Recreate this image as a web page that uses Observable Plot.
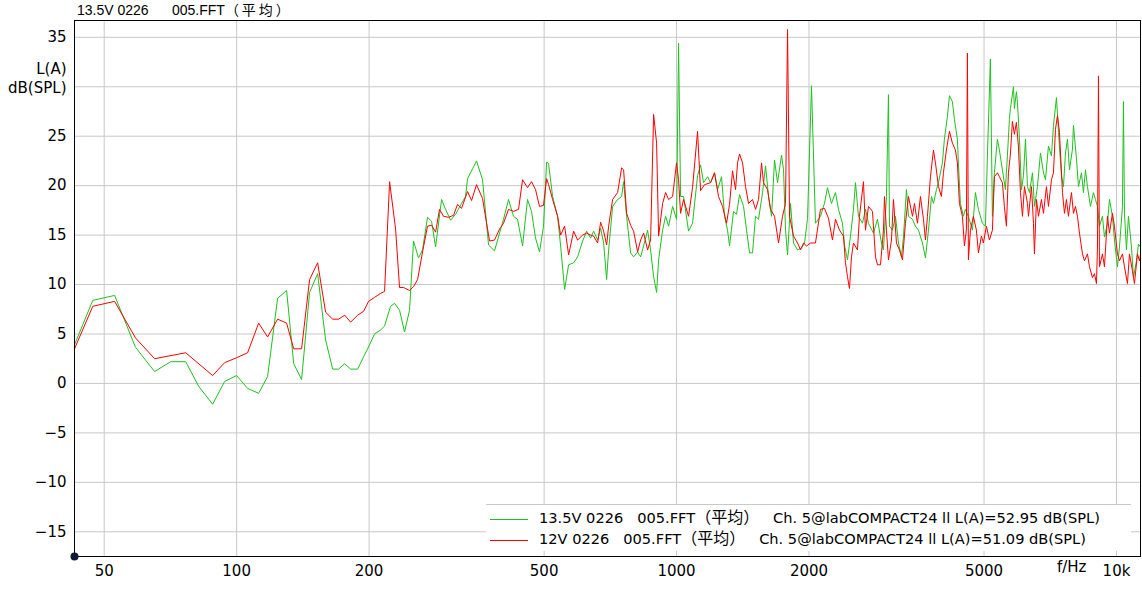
<!DOCTYPE html>
<html><head><meta charset="utf-8">
<script src="https://cdn.jsdelivr.net/npm/d3@7"></script>
<script src="https://cdn.jsdelivr.net/npm/@observablehq/plot@0.6"></script>
<style>
html,body{margin:0;padding:0;background:#fff;}
#wrap{position:relative;width:1142px;height:590px;font-family:"DejaVu Sans","Noto Sans CJK SC",sans-serif;color:#000;}
#wrap svg text{white-space:pre;}
#title{position:absolute;left:77px;top:1px;font-family:"Liberation Sans",Arial,"Noto Sans CJK SC",sans-serif;font-size:14px;line-height:16px;white-space:pre;}
#legend{position:absolute;left:486px;top:504px;width:645px;height:46px;background:#fff;border-top:1px solid #c8c8c8;font-size:14.6px;}
.row{position:absolute;left:0;height:20px;line-height:20px;white-space:pre;}
.sw{display:inline-block;width:38px;height:0;border-top:1px solid;vertical-align:middle;margin:0 11px 0 4px;}
.cjk{font-family:"Noto Sans CJK SC",sans-serif;font-size:16px;line-height:14px;}
#title .cjk{font-size:14px;line-height:16px;letter-spacing:3px;}
</style></head>
<body>
<div id="wrap">
  <div id="title">13.5V 0226      005.FFT<span class="cjk">（平均）</span></div>
</div>
<script>
// tick values
const xTicks = [50, 100, 200, 500, 1000, 2000, 5000, 10000];
const yTicks = [-15, -10, -5, 0, 5, 10, 15, 20, 25, 30, 35];
const yLabelTicks = [-15, -10, -5, 0, 5, 10, 15, 20, 25, 35];
// legend entries: [file part, CJK part, channel part]
const seriesFiles = ["13.5V 0226   005.FFT", "12V 0226   005.FFT"];
const seriesAvg = "（平均）";
const seriesChannels = ["   Ch. 5@labCOMPACT24 ll L(A)=52.95 dB(SPL)", "   Ch. 5@labCOMPACT24 ll L(A)=51.09 dB(SPL)"];
const seriesColors = ["#1ec21e", "#ff0000"];

// 13.5V series (green)
const freq13 = [42.8,47.1,52.8,58.9,65.1,70.8,76.6,82.0,88.2,93.9,100,105.9,112.2,117.6,123.9,129.9,134.8,140.5,146.5,152.8,159.3,165.3,170.5,176.0,181.6,188.4,194.4,199.5,205.8,212.4,216.9,223.8,228.6,234.6,240.8,247.2,252.4,259.1,264.6,271.6,277.4,283.3,292.3,298.5,306.4,314.5,324.5,331.4,334.9,343.8,351.0,362.2,373.8,385.7,395.9,404.3,415.0,426.0,435.0,446.6,458.4,468.1,478.0,488.1,498.4,506.6,511.9,522.7,536.6,545.1,556.6,568.4,583.5,595.8,611.6,624.5,637.7,647.9,661.6,672.0,682.7,693.5,700.8,715.6,734.5,750.1,758.0,769.9,786.2,798.7,815.6,828.5,841.6,859.4,873.0,886.8,900.8,910.3,929.6,944.3,959.2,979.5,1000,1010.5,1021.2,1037.3,1064.8,1087.3,1116.2,1133.8,1151.8,1176.1,1194.7,1220.0,1239.3,1265.5,1285.6,1305.9,1319.6,1347.5,1368.9,1390.5,1420.0,1442.4,1465.3,1488.4,1512.0,1535.9,1568.4,1593.2,1618.4,1644.0,1670.0,1696.5,1732.4,1750.6,1769.0,1787.6,1815.9,1844.6,1883.7,1923.5,1954.0,1984.9,2026.3,2069.2,2124.0,2169.0,2203.3,2249.9,2297.5,2333.9,2383.2,2408.3,2446.5,2485.1,2524.5,2551.1,2591.4,2646.2,2688.0,2730.6,2803.0,2862.3,2922.8,2953.6,3000.2,3031.7,3047.8,3096.0,3144.9,3194.6,3245.3,3279.4,3331.3,3366.5,3437.7,3492.0,3547.2,3622.3,3679.7,3737.9,3797.0,3836.9,3897.7,3938.6,4021,4063,4128,4171,4237,4282,4349,4372,4418,4488,4535,4607,4705,4779,4855,4957,5036,5089,5169,5224,5279,5362,5419,5504,5591,5650,5710,5740,5833,5861,5923,5956,6019,6082,6146,6211,6276,6342,6443,6510,6613,6718,6824,6896,7005,7116,7191,7305,7382,7498,7577,7657,7738,7819,7943,7984,8111,8196,8326,8413,8502,8591,8727,8865,8959,9053,9148,9293,9391,9539,9640,9792,9895,10052,10158,10318,10372,10427,10537,10647,10816,10930,11103,11220,11338];
const db13 = [3.9,8.4,8.9,3.65,1.2,2.2,2.2,-0.3,-2.1,0.2,0.8,-0.5,-1.0,0.7,8.6,9.4,2.0,0.4,9.2,11.1,4.4,1.45,1.45,2.0,1.45,1.45,2.7,3.7,5.0,5.4,5.8,7.8,8.1,7.4,5.2,7.4,14.4,12.7,13.5,16.8,16.4,13.8,18.6,17.6,16.5,17.1,18.2,18.9,20.7,21.7,22.5,20.6,14.0,13.4,15.2,16.6,18.6,16.9,16.6,13.9,18.6,17.4,14.7,13.3,15.9,22.4,22.2,18.9,16.9,13.9,9.5,12.0,12.2,12.8,14.4,15.4,14.7,15.4,14.5,15.7,14.2,10.5,13.5,17.9,18.6,18.9,20.4,16.9,13.2,12.8,13.3,12.8,13.9,15.5,13.5,10.8,9.2,12.5,15.5,16.9,15.9,17.9,16.6,34.4,18.9,18.9,15.4,16.2,21.0,22.1,20.3,20.9,20.3,21.3,19.6,20.9,16.9,15.5,13.9,17.4,17.1,19.1,17.9,15.5,13.2,13.2,16.9,16.6,19.3,22.0,18.9,16.9,22.6,20.3,23.1,21.6,15.5,13.0,18.2,14.2,13.5,13.7,14.2,16.7,30.1,16.2,16.9,18.2,19.8,18.2,19.3,17.6,16.2,14.0,12.5,14.9,17.6,20.3,16.9,16.2,17.6,16.2,15.2,16.6,14.2,13.5,18.9,29.2,15.9,15.5,16.9,14.2,12.8,14.8,19.6,16.9,16.6,15.9,15.5,14.2,12.7,15.5,18.9,18.2,19.6,20.3,22.3,24.7,27.0,29.1,28.5,26.7,24.7,22.3,18.2,16.9,17.6,16.9,15.5,19.3,17.6,16.2,15.9,23.0,32.8,16.9,21.3,24.7,23.6,21.6,19.6,23.0,26.7,27.8,30.0,27.8,29.5,28.4,24.7,19.6,21.0,24.7,19.9,19.3,21.3,17.9,19.9,23.3,21.3,20.6,24.0,23.0,26.1,28.9,25.4,21.0,19.9,23.3,24.7,21.6,23.7,26.1,22.7,19.9,21.3,19.3,21.6,19.9,17.9,19.3,18.6,17.9,15.9,16.9,14.8,16.2,18.6,16.9,14.5,11.8,13.8,17.9,28.5,17.2,13.5,16.9,13.8,10.7,12.4,14.1,13.8];

// 12V series (red)
const freq12 = [42.8,47.1,52.8,58.9,65.1,76.6,88.2,93.9,100,105.9,112.2,117.6,123.9,129.9,134.8,140.5,146.5,152.8,159.3,165.3,170.5,176.0,181.6,188.4,194.4,199.5,205.8,212.4,216.9,222.7,229.8,234.6,239.6,247.2,252.4,257.8,264.6,271.6,277.4,283.3,289.2,295.4,303.2,311.2,317.8,324.5,334.9,342.0,351.0,362.2,375.8,385.7,395.9,404.3,415.0,426.0,437.3,446.6,458.4,468.1,478.0,488.1,498.4,506.6,511.9,522.7,536.6,545.1,556.6,568.4,583.5,595.8,611.6,624.5,637.7,647.9,661.6,672.0,682.7,693.5,700.8,715.6,734.5,750.1,758.0,769.9,786.2,798.7,815.6,828.5,841.6,859.4,873.0,886.8,900.8,910.3,929.6,944.3,959.2,979.5,1000,1010.5,1021.2,1037.3,1064.8,1087.3,1116.2,1133.8,1157.8,1194.7,1220.0,1245.8,1272.2,1299.1,1319.6,1340.5,1361.7,1376.1,1390.5,1412.6,1434.9,1457.6,1488.4,1512.0,1535.9,1560.2,1576.6,1610.0,1635.4,1670.0,1705.4,1741.4,1769.0,1787.6,1806.4,1844.6,1883.7,1913.5,1943.7,1974.5,2015.8,2069.2,2124.0,2169.0,2214.8,2261.7,2297.5,2346.2,2395.8,2421.0,2446.5,2472.2,2498.2,2524.5,2577.9,2605.0,2660.1,2688.0,2730.6,2788.4,2832.6,2862.3,2907.6,2953.6,2969.1,3000.2,3031.7,3079.7,3112.1,3161.5,3211.5,3262.4,3314.0,3366.5,3437.7,3473.9,3528.9,3584.7,3641.3,3679.7,3718.3,3777.1,3836.9,3877.3,3938.6,4000,4042,4106,4171,4237,4304,4349,4395,4465,4512,4559,4583,4607,4656,4729,4804,4855,4931,4983,5062,5142,5224,5279,5362,5419,5504,5562,5621,5680,5740,5800,5861,5923,5985,6050,6114,6178,6276,6309,6409,6476,6510,6579,6648,6753,6824,6932,7005,7116,7191,7267,7343,7420,7538,7617,7697,7778,7901,7984,8068,8153,8239,8370,8458,8591,8682,8819,8912,9006,9053,9101,9148,9293,9391,9539,9640,9792,9895,10052,10158,10318,10427,10592,10703,10873,10987,11161,11279,11338];
const db12 = [3.5,7.8,8.3,4.6,2.5,3.1,0.8,2.1,2.6,3.1,6.1,4.7,6.5,6.1,3.5,3.5,10.5,12.2,7.2,6.5,6.5,6.9,6.2,6.9,7.3,8.3,8.7,9.1,9.3,20.4,15.6,9.7,9.7,9.4,9.8,10.5,13.3,15.9,16.0,15.3,17.6,16.9,16.8,17.0,18.1,17.7,19.4,18.5,20.1,18.7,14.4,14.5,15.6,16.2,17.6,17.4,17.6,20.6,19.8,20.4,19.6,17.9,18.0,20.7,20.1,18.6,16.9,15.0,15.9,13.0,15.4,14.5,15.0,15.2,15.0,14.9,14.2,16.3,15.4,14.0,15.9,18.6,19.3,21.8,21.6,17.2,16.0,15.4,13.3,14.5,15.2,13.5,14.5,27.2,24.3,14.9,18.2,19.3,18.6,18.9,22.3,20.6,17.2,18.6,16.9,19.8,25.5,19.5,20.1,20.3,21.3,18.9,17.9,16.2,18.1,21.5,19.6,22.3,23.2,22.3,19.9,18.2,18.6,17.6,18.6,22.3,20.3,19.6,17.6,16.9,14.2,16.9,18.2,35.8,16.9,14.9,14.2,13.5,14.2,13.9,14.2,14.2,17.6,17.7,16.7,14.5,16.6,15.5,14.9,12.2,10.8,9.6,12.8,14.2,13.5,16.9,20.4,15.5,17.9,17.4,12.8,12.0,12.0,15.5,18.9,15.5,12.5,14.5,18.6,14.2,13.5,12.5,16.2,18.9,16.9,18.2,16.2,18.9,16.6,14.5,16.9,20.9,23.6,22.3,19.9,18.9,21.3,23.6,25.5,24.3,23.6,22.3,18.2,16.9,13.9,15.5,33.4,12.5,15.5,16.9,15.5,13.2,14.9,14.2,15.9,14.5,15.5,20.9,21.3,20.9,20.3,17.9,15.9,21.3,23.2,26.5,25.2,26.4,24.0,19.3,16.9,19.9,18.2,16.9,19.9,16.2,13.1,18.6,16.9,18.6,17.2,19.9,17.9,20.6,21.3,25.7,27.1,25.4,19.3,17.2,18.6,16.9,19.3,17.2,17.9,16.9,15.2,13.1,12.4,13.1,11.8,10.7,11.1,10.1,13.8,31.1,11.8,13.1,11.8,16.9,15.2,17.2,15.9,13.1,12.4,13.1,11.8,10.1,13.1,11.4,10.1,13.1,12.4,13.0];

const data13 = freq13.map((f, i) => ({f, db: db13[i]}));
const data12 = freq12.map((f, i) => ({f, db: db12[i]}));

const chart = Plot.plot({
  width: 1142,
  height: 590,
  marginLeft: 74,
  marginRight: 2,
  marginTop: 20,
  marginBottom: 34,
  style: {fontFamily: '"DejaVu Sans", "Noto Sans CJK SC", sans-serif', fontSize: "15px", color: "#000", background: "transparent", overflow: "visible"},
  x: {type: "log", domain: [42.8, 11340]},
  y: {domain: [-17.5, 36.7]},
  marks: [
    Plot.gridX(xTicks, {stroke: "#c8c8c8", strokeOpacity: 1}),
    Plot.gridY(yTicks, {stroke: "#c8c8c8", strokeOpacity: 1}),
    Plot.line(data13, {x: "f", y: "db", stroke: seriesColors[0], strokeWidth: 1}),
    Plot.line(data12, {x: "f", y: "db", stroke: seriesColors[1], strokeWidth: 1}),
    Plot.frame({stroke: "#000"}),
    Plot.axisX(xTicks, {tickSize: 0, tickPadding: 9, label: null, tickFormat: d => d === 10000 ? "10k" : String(d)}),
    Plot.axisY(yLabelTicks, {tickSize: 0, tickPadding: 8, label: null}),
    Plot.text(["L(A)"], {frameAnchor: "top-left", dx: -8, dy: 43, textAnchor: "end"}),
    Plot.text(["dB(SPL)"], {frameAnchor: "top-left", dx: -8, dy: 62, textAnchor: "end"}),
    Plot.text(["f/Hz"], {frameAnchor: "bottom-right", dx: -54, dy: 15, textAnchor: "end"}),
    Plot.dot([0], {frameAnchor: "bottom-left", r: 4, fill: "#0b1b33", stroke: "none"})
  ]
});
const wrap = document.getElementById("wrap");
wrap.appendChild(chart);

const legend = document.createElement("div");
legend.id = "legend";
seriesFiles.forEach((file, i) => {
  const row = document.createElement("div");
  row.className = "row";
  row.style.top = (3 + i * 21) + "px";
  const sw = document.createElement("span");
  sw.className = "sw";
  sw.style.borderTopColor = seriesColors[i];
  row.appendChild(sw);
  row.appendChild(document.createTextNode(file));
  const cjk = document.createElement("span");
  cjk.className = "cjk";
  cjk.textContent = seriesAvg;
  row.appendChild(cjk);
  row.appendChild(document.createTextNode(seriesChannels[i]));
  legend.appendChild(row);
});
wrap.appendChild(legend);
</script>
</body></html>
